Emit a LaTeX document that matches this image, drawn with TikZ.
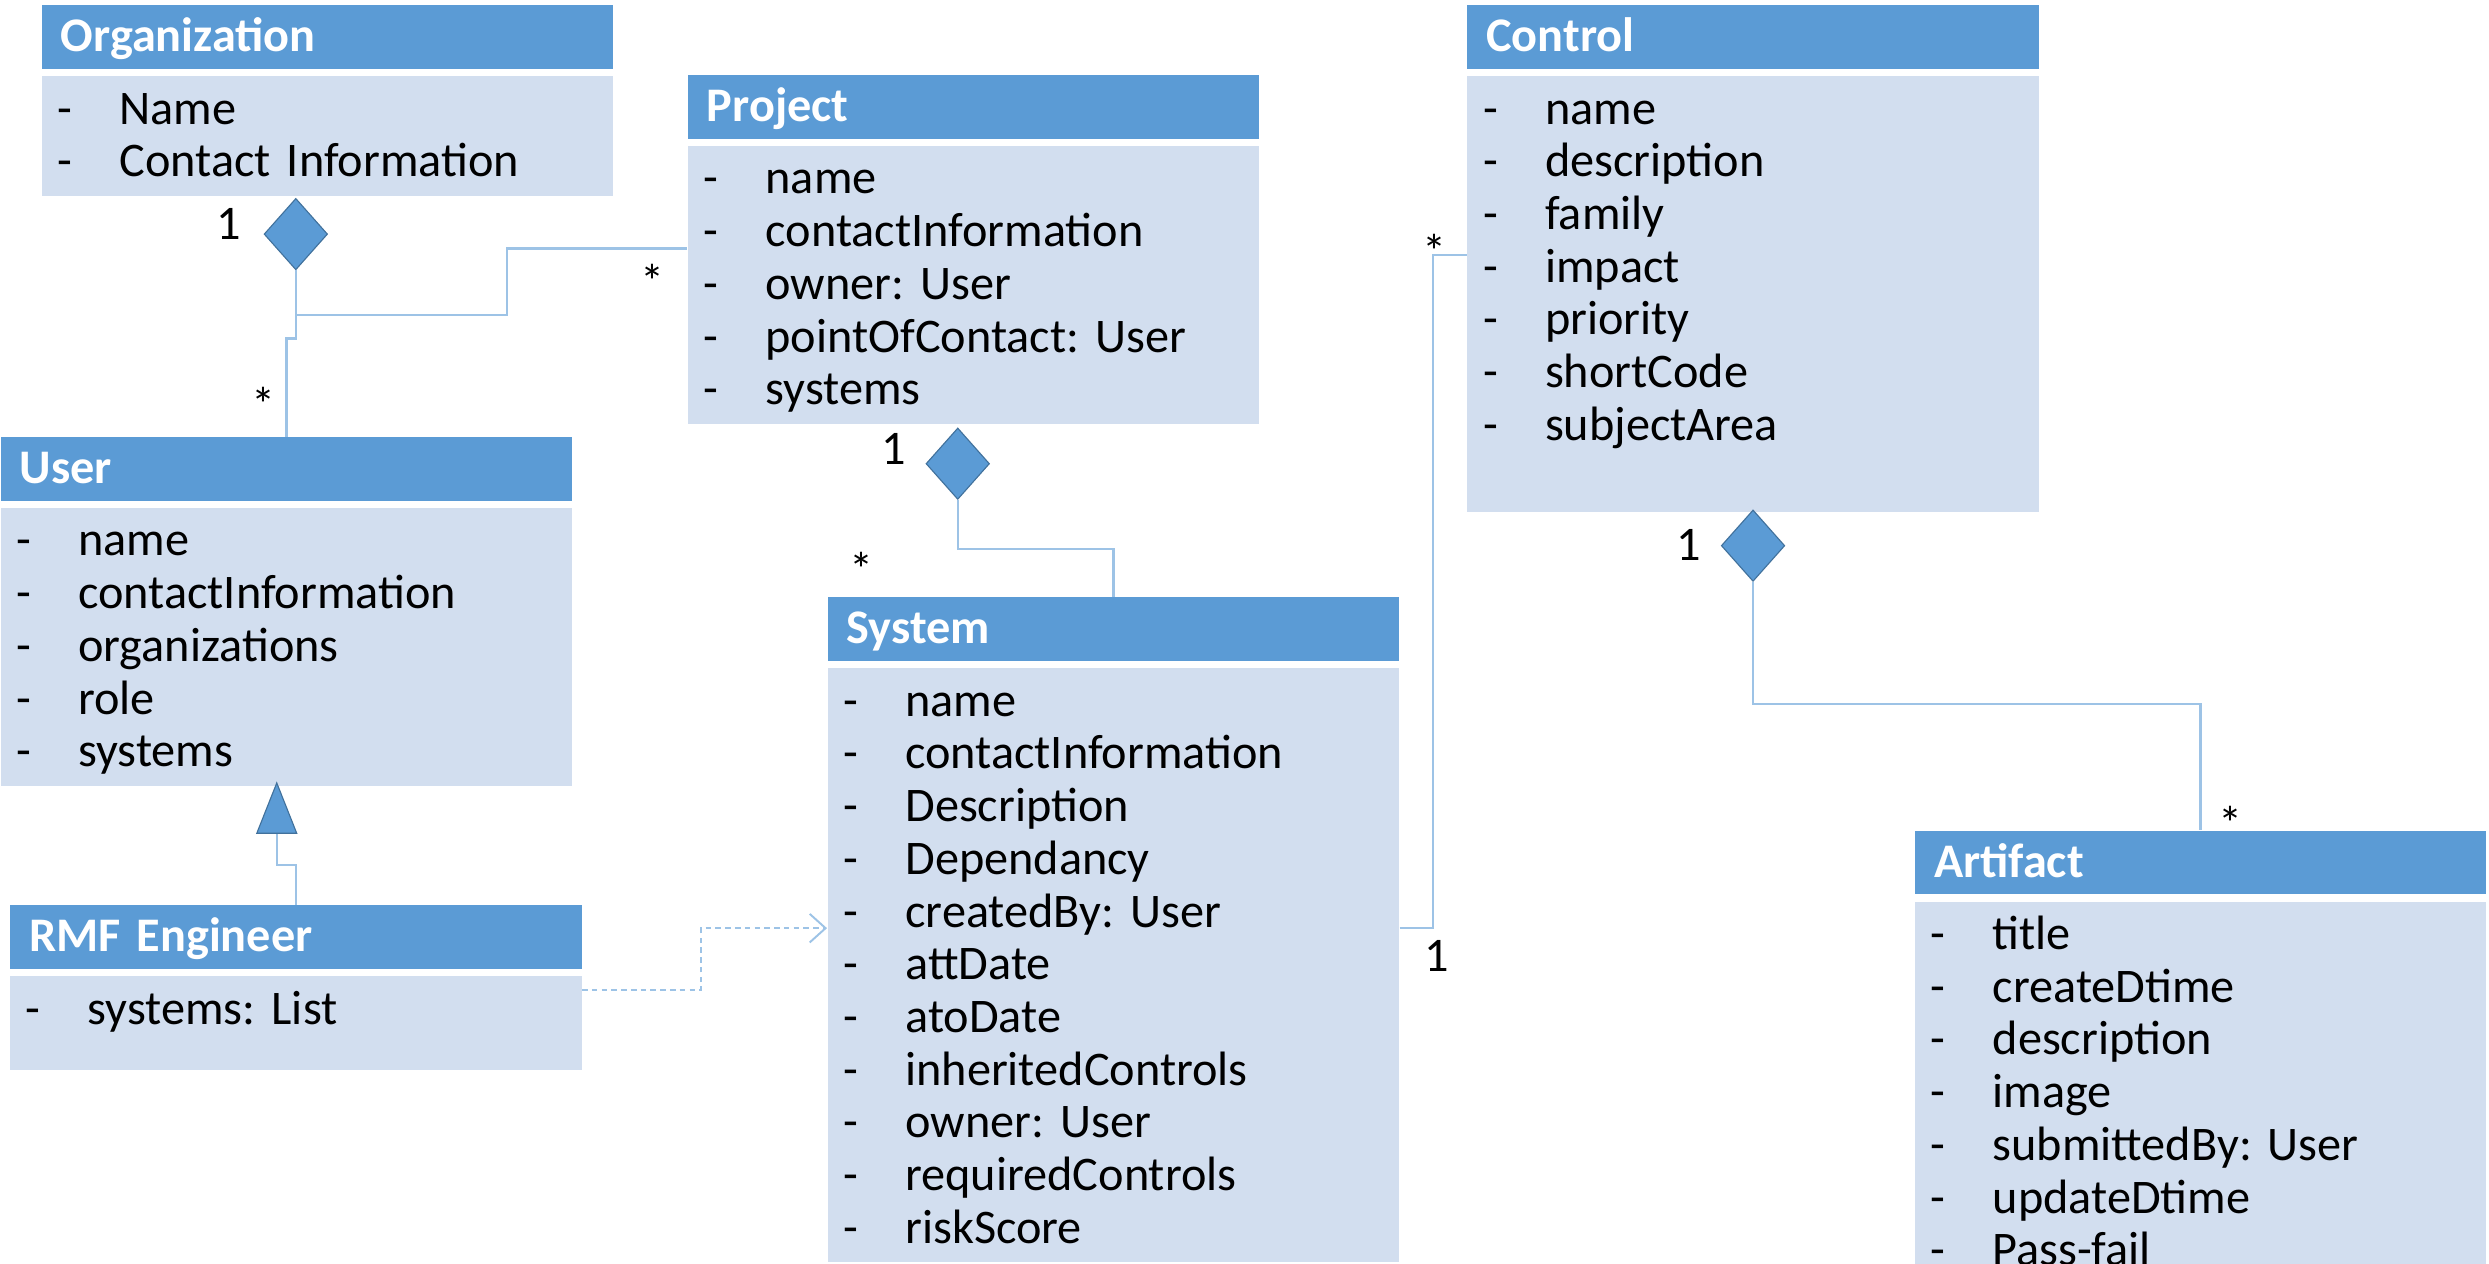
\documentclass[tikz,border=0pt]{standalone}
\usepackage{fontspec}
\setmainfont{Carlito}
\usetikzlibrary{shapes.geometric,arrows.meta,positioning,calc}
\definecolor{umlblue}{RGB}{91,155,213}
\definecolor{umllight}{RGB}{210,222,239}
\definecolor{umlline}{RGB}{157,195,230}
\definecolor{umldark}{RGB}{65,113,156}
\frenchspacing
\newcommand{\attrfont}{\fontsize{17.3}{18.9}\selectfont}
\newcommand{\attr}[1]{\strut\raisebox{-1.4pt}[0pt][0pt]{\makebox[0.78cm][l]{-}#1}}

\begin{document}
\begin{tikzpicture}[
    head/.style={anchor=north west, fill=umlblue, text=white, font=\attrfont\bfseries, text width=6.72cm, inner xsep=0.24cm, inner ysep=0pt, minimum height=0.8cm, text height=12.5pt, text depth=2pt, align=left},
    body/.style={fill=umllight, font=\attrfont, text width=6.8cm, inner xsep=0.2cm, inner ysep=2.5pt, align=left},
    link/.style={draw=umlline, line width=0.9pt},
    compo/.style={diamond, fill=umlblue, draw=umldark, line width=0.4pt, inner sep=0pt, minimum width=0.8cm, minimum height=0.9cm, anchor=north},
    mult/.style={font=\attrfont, inner sep=0pt}
]

% Visible area
\useasboundingbox (0,0) rectangle (31.36,-15.92);
\clip (0,0) rectangle (31.36,-15.92);

% Classes
\node[head] (org) at (0.52,-0.06) {Organization};
\node[body, below right=0.08cm and 0cm of org.south west] (orgbody) {\attr{Name}\\ \attr{Contact Information}};

\node[head] (proj) at (8.66,-0.94) {Project};
\node[body, below right=0.08cm and 0cm of proj.south west] (projbody) {\attr{name}\\ \attr{contactInformation}\\ \attr{owner: User}\\ \attr{pointOfContact: User}\\ \attr{systems}};

\node[head] (ctrl) at (18.48,-0.06) {Control};
\node[body, below right=0.08cm and 0cm of ctrl.south west] (ctrlbody) {\attr{name}\\ \attr{description}\\ \attr{family}\\ \attr{impact}\\ \attr{priority}\\ \attr{shortCode}\\ \attr{subjectArea}\\ \strut};

\node[head] (user) at (0,-5.50) {User};
\node[body, below right=0.08cm and 0cm of user.south west] (userbody) {\attr{name}\\ \attr{contactInformation}\\ \attr{organizations}\\ \attr{role}\\ \attr{systems}};

\node[head] (rmf) at (0.12,-11.40) {RMF Engineer};
\node[body, below right=0.08cm and 0cm of rmf.south west] (rmfbody) {\attr{systems: List}\\[-0.33cm]\strut};

\node[head] (sys) at (10.42,-7.52) {System};
\node[body, below right=0.08cm and 0cm of sys.south west] (sysbody) {\attr{name}\\ \attr{contactInformation}\\ \attr{Description}\\ \attr{Dependancy}\\ \attr{createdBy: User}\\ \attr{attDate}\\ \attr{atoDate}\\ \attr{inheritedControls}\\ \attr{owner: User}\\ \attr{requiredControls}\\ \attr{riskScore}};

\node[head] (art) at (24.12,-10.46) {Artifact};
\node[body, below right=0.08cm and 0cm of art.south west] (artbody) {\attr{title}\\ \attr{createDtime}\\ \attr{description}\\ \attr{image}\\ \attr{submittedBy: User}\\ \attr{updateDtime}\\ \attr{Pass-fail}};

% Composition diamonds
\node[compo] (orgdia) at ($(orgbody.south)+(-0.4,-0.02)$) {};
\node[compo] (projdia) at ($(projbody.south)+(-0.2,-0.04)$) {};
\node[compo] (ctrldia) at ($(ctrlbody.south)+(0,0.04)$) {};

% Associations
\coordinate (orgjoin) at ($(orgdia.south)+(0,-0.56)$);
\draw[link] (orgdia.south) -- ++(0,-0.86) -| (user.north);
\draw[link] (orgjoin) -- ++(2.66,0) |- ([yshift=0.46cm]projbody.west);
\draw[link] (projdia.south) -- ++(0,-0.62) -| (sys.north);
\draw[link] ([yshift=-3.28cm]sysbody.north east) -- ++(0.42,0) |- ([yshift=-2.26cm]ctrlbody.north west);
\draw[link] (ctrldia.south) -- ++(0,-1.54) -| (art.north);

% Generalization and dependency
\draw[link, -{Triangle[width=0.52cm, length=0.66cm, fill=umlblue, color=umldark, line width=0.4pt]}] (rmf.north) -- ++(0,0.5) -| ([xshift=-0.12cm, yshift=0.06cm]userbody.south);
\draw[link, line width=0.7pt, dash pattern=on 2pt off 1.5pt, -{Straight Barb[length=0.2cm, width=0.36cm]}] ([yshift=-0.18cm]rmfbody.north east) -- ++(1.5,0) |- ([yshift=-3.28cm]sysbody.north west);

% Multiplicities
\node[mult] (orgone) at (2.88,-2.82) {1};
\node[mult] (userstar) at (3.32,-5.09) {*};
\node[mult] (projstar) at (8.22,-3.55) {*};
\node[mult] (projone) at (11.26,-5.66) {1};
\node[mult] (sysstar) at (10.86,-7.17) {*};
\node[mult] (ctrlstar) at (18.08,-3.17) {*};
\node[mult] (sysone) at (18.1,-12.04) {1};
\node[mult] (ctrlone) at (21.28,-6.86) {1};
\node[mult] (artstar) at (28.1,-10.37) {*};

\end{tikzpicture}
\end{document}
